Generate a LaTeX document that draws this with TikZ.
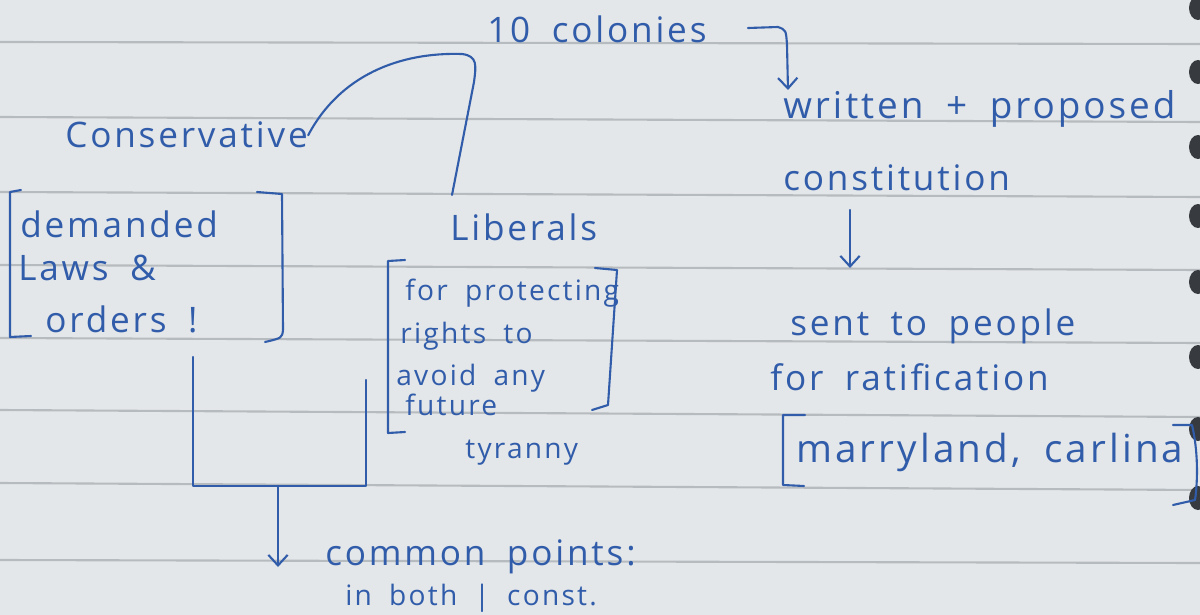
\documentclass[tikz,border=0pt]{standalone}
\usepackage{fontspec}
\setmainfont[LetterSpace=8, WordSpace=1.8]{Open Sans}
\usetikzlibrary{arrows.meta}
\definecolor{paper}{RGB}{228,231,233}
\definecolor{rule}{RGB}{182,187,191}
\definecolor{ink}{RGB}{48,92,170}
\definecolor{ring}{RGB}{55,58,62}
\tikzset{
  hand/.style={text=ink, font=\fontsize{20}{24}\selectfont, inner sep=0pt, anchor=base west},
  handsmall/.style={hand, font=\fontsize{16}{20}\selectfont},
  handbig/.style={hand, font=\fontsize{22}{26}\selectfont},
  pen/.style={draw=ink, line width=1.2pt, line cap=round, line join=round},
  penarrow/.style={pen, -{Straight Barb[length=6pt,width=11pt]}},
}
\begin{document}
\begin{tikzpicture}[x=0.02cm, y=-0.02cm]
\useasboundingbox (0,0) rectangle (1200,615);
\fill[paper] (0,0) rectangle (1200,615);
% ruled lines of the page
\foreach \a/\b in {42/44,117/122,192/197,265/270,338/343,410/417,483/490,560/563}
  \draw[rule, line width=1.2pt] (0,\a) -- (1200,\b);
% binding rings at the right edge
\foreach \y in {8,72,147,216,282,357,429,498}
  \fill[ring] (1198,\y) ellipse (9 and 12);

% right column
\node[hand] (colonies) at (487,43) {10 colonies};
\node[hand, font=\fontsize{21}{25}\selectfont] (written) at (783,118) {written + proposed};
\node[hand] (constitution) at (783,190) {constitution};
\node[hand] (sent) at (790,335) {sent to people};
\node[hand] (ratif) at (770,390) {for ratification};
\node[handbig] (states) at (796,462) {marryland, carlina};
\draw[pen] (805,415) -- (783,415) -- (783,485) -- (804,486);
\draw[pen] (1173,425) -- (1192,425) .. controls (1198,450) and (1198,480) .. (1195,500) -- (1173,505);
\coordinate (colend) at (748,28);
\coordinate (writtop) at (788,90);
\draw[penarrow] (colend) -- (778,27) .. controls (786,30) .. (787,45) -- (writtop);
\coordinate (consbot) at (850,210);
\coordinate (senttop) at (850,268);
\draw[penarrow] (consbot) -- (senttop);

% left column
\node[hand] (conservative) at (65,148) {Conservative};
\node[hand] (demanded) at (20,237) {demanded};
\node[hand] (laws) at (18,280) {Laws \&};
\node[hand] (orders) at (45,332) {orders !};
\draw[pen] (21,190) -- (10,192) -- (10,337) -- (31,336);
\draw[pen] (257,192) -- (282,194) -- (283,330) .. controls (282,338) .. (265,342);

\node[hand] (liberals) at (450,240) {Liberals};
\node[handsmall] (protecting) at (405,300) {for protecting};
\node[handsmall] (rights) at (400,343) {rights to};
\node[handsmall] (avoid) at (396,385) {avoid any};
\node[handsmall] (future) at (405,415) {future};
\node[handsmall] (tyranny) at (465,458) {tyranny};
\draw[pen] (405,260) -- (388,261) -- (388,433) -- (405,432);
\draw[pen] (595,268) -- (617,270) -- (608,405) -- (592,410);

% link between the two groups
\coordinate (libtop) at (452,195);
\draw[pen] (conservative.east) .. controls (340,75) and (400,52) .. (462,54)
  .. controls (478,56) and (476,66) .. (474,82) -- (libtop);

% bracket joining both boxes
\coordinate (conslow) at (193,357);
\coordinate (liblow) at (366,380);
\coordinate (join) at (278,486);
\coordinate (commontip) at (278,567);
\draw[pen] (conslow) |- (join) -| (liblow);
\draw[penarrow] (join) -- (commontip);
\node[hand] (common) at (325,565) {common points:};
\node[handsmall] (both) at (345,605) {in both \textbar\ const.};
\end{tikzpicture}
\end{document}
